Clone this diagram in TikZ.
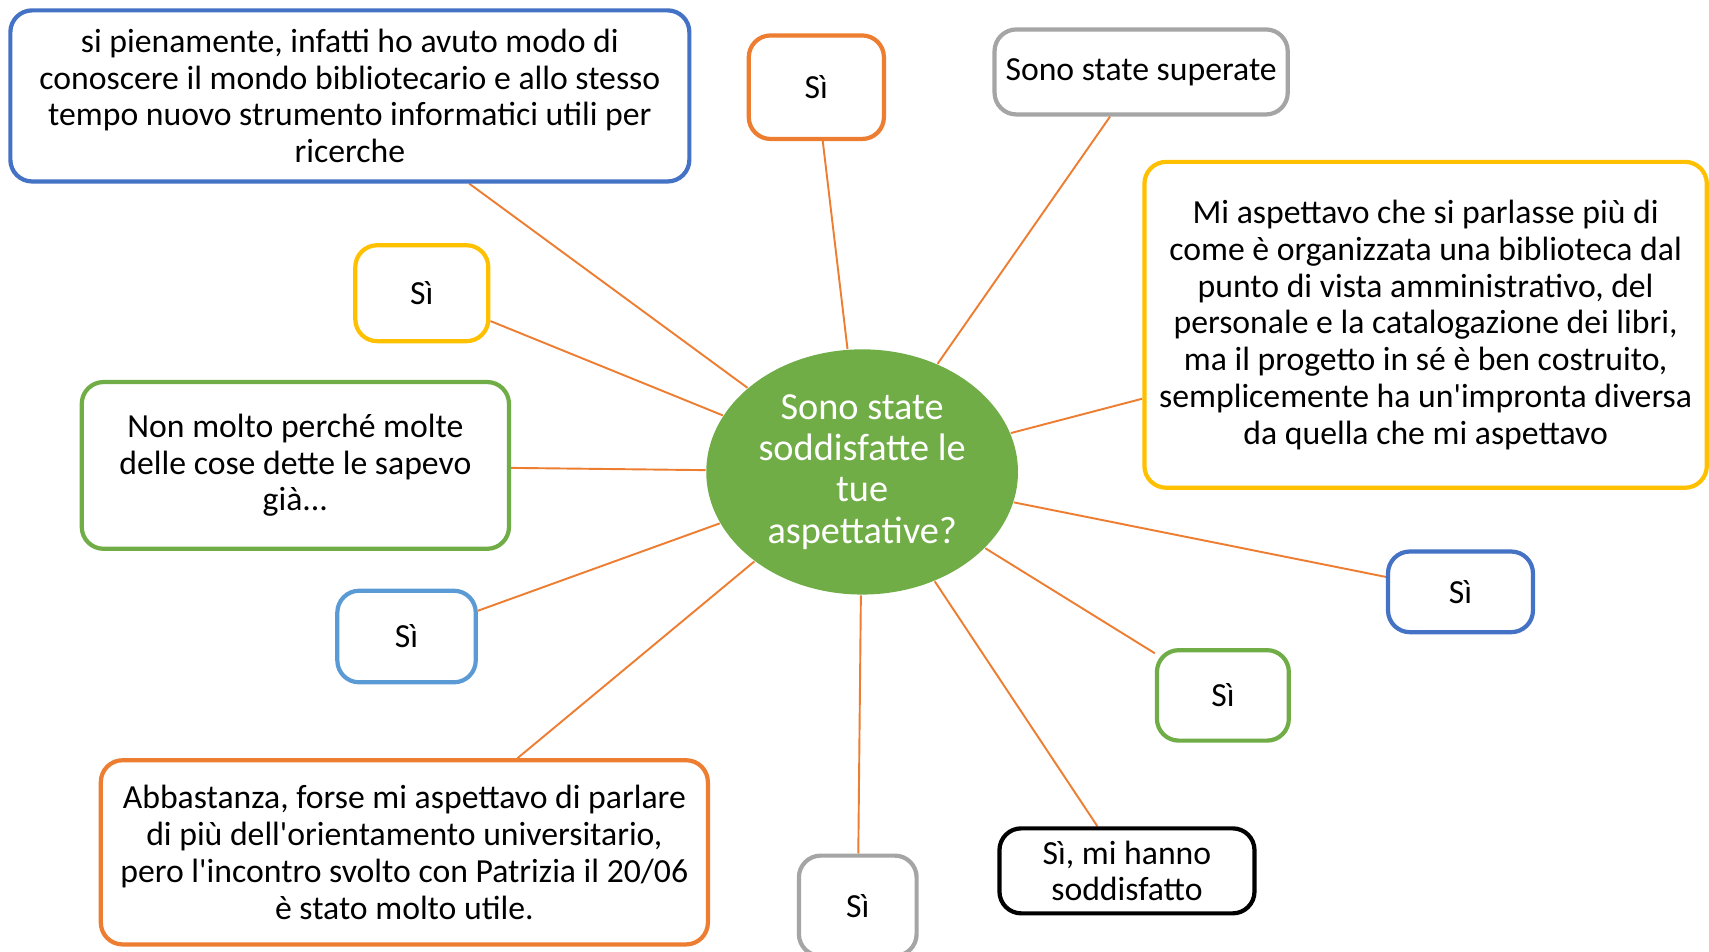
\documentclass[tikz,border=0pt]{standalone}
\usepackage{fontspec}
\setmainfont{Carlito}
\usetikzlibrary{shapes.geometric}
\pgfdeclarelayer{background}
\pgfsetlayers{background,main}

\definecolor{blu}{HTML}{4472C4}
\definecolor{azzurro}{HTML}{5B9BD5}
\definecolor{arancio}{HTML}{ED7D31}
\definecolor{grigio}{HTML}{A5A5A5}
\definecolor{giallo}{HTML}{FFC000}
\definecolor{verde}{HTML}{70AD47}

\begin{document}
\begin{tikzpicture} [ x=0.1mm, y=-0.1mm
								, risposta/.style={rectangle, rounded corners=2mm, line width=1.1pt, draw, fill=white, align=center, inner sep=1pt, font=\fontsize{8.8}{9.6}\selectfont}
								, si/.style={risposta, minimum width=12.4mm, minimum height=8.6mm}
								, domanda/.style={ellipse, fill=verde, text=white, align=center, inner sep=0pt, minimum width=28.6mm, minimum height=22.5mm, font=\fontsize{10}{10.8}\selectfont}
								, raggio/.style={draw, arancio, line width=0.5pt}
								]
	\useasboundingbox (0,0) rectangle (1568,873);

	\node (Domanda) 		[domanda] at (791,433) {Sono state\\soddisfatte le\\tue\\aspettative?};

	\node (Pienamente) 	[risposta, draw=blu, minimum width=62.3mm, minimum height=15.7mm] at (321,88) {si pienamente, infatti ho avuto modo di\\conoscere il mondo bibliotecario e allo stesso\\tempo nuovo strumento informatici utili per\\ricerche};
	\node (SiArancio) 		[si, draw=arancio, minimum height=9.5mm] at (749,80) {Sì};
	\node (Superate) 		[risposta, draw=grigio, minimum width=26.9mm, minimum height=7.8mm] at (1047,66) {Sono state superate};
	\node (Aspettavo) 		[risposta, draw=giallo, minimum width=51.6mm, minimum height=29.9mm] at (1308,298) {Mi aspettavo che si parlasse più di\\come è organizzata una biblioteca dal\\punto di vista amministrativo, del\\personale e la catalogazione dei libri,\\ma il progetto in sé è ben costruito,\\semplicemente ha un\textquotesingle impronta diversa\\da quella che mi aspettavo};
	\node (SiGiallo) 		[si, draw=giallo, minimum width=12.2mm, minimum height=8.8mm] at (387,269) {Sì};
	\node (NonMolto) 		[risposta, draw=verde, minimum width=39.2mm, minimum height=15.3mm] at (271,427) {Non molto perché molte\\delle cose dette le sapevo\\già...};
	\node (SiAzzurro) 		[si, draw=azzurro, minimum width=12.7mm, minimum height=8.4mm] at (373,584) {Sì};
	\node (Abbastanza) 	[risposta, draw=arancio, minimum width=55.7mm, minimum height=16.9mm] at (371,782) {Abbastanza, forse mi aspettavo di parlare\\di più dell\textquotesingle orientamento universitario,\\pero l\textquotesingle incontro svolto con Patrizia il 20/06\\è stato molto utile.};
	\node (SiGrigio) 		[si, draw=grigio, minimum width=10.8mm, minimum height=9.2mm] at (787,831) {Sì};
	\node (MiHanno) 		[risposta, draw=black, minimum width=23.4mm, minimum height=7.8mm] at (1034,799) {Sì, mi hanno\\soddisfatto};
	\node (SiVerde) 		[si, draw=verde, minimum width=12.1mm, minimum height=8.3mm] at (1122,638) {Sì};
	\node (SiBlu) 			[si, draw=blu, minimum width=13.3mm, minimum height=7.4mm] at (1340,543) {Sì};

	\begin{pgfonlayer}{background}
	\foreach \r in {Pienamente, SiArancio, Superate, Aspettavo, SiGiallo, NonMolto, SiAzzurro, Abbastanza, SiGrigio, MiHanno, SiVerde, SiBlu}
		\draw [raggio] (Domanda) -- (\r);
	\end{pgfonlayer}

\end{tikzpicture}
\end{document}
